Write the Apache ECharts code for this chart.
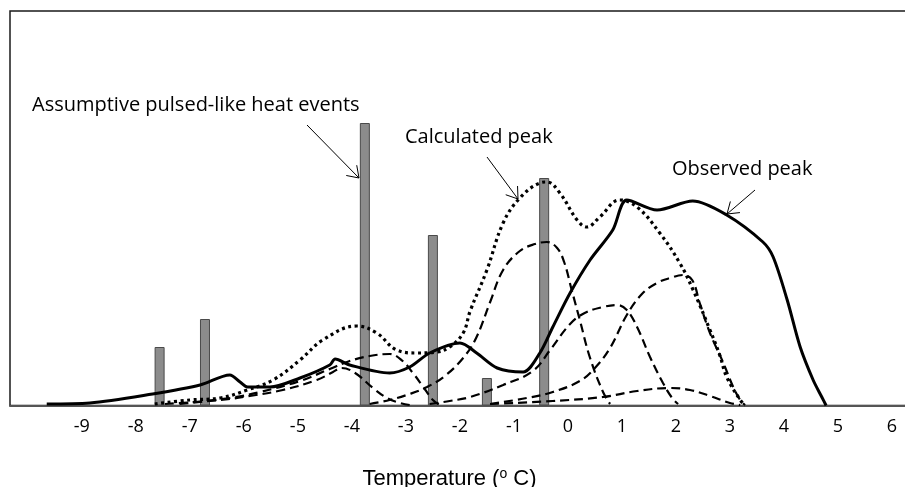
<!DOCTYPE html>
<html>
<head>
<meta charset="utf-8">
<script src="https://cdn.jsdelivr.net/npm/echarts@6/dist/echarts.min.js"></script>
<style>
  html, body { margin: 0; padding: 0; background: #fff; }
  #chart { width: 905px; height: 487px; }
</style>
</head>
<body>
<div id="chart"></div>
<script>
// Temperature ticks shown on the x axis
const tickTemps = [-9, -8, -7, -6, -5, -4, -3, -2, -1, 0, 1, 2, 3, 4, 5, 6];

// Pulsed heat events (bars)
const pulseTemps = [-7.56, -6.72, -3.76, -2.50, -1.50, -0.44];
const pulseHeat  = [58.5, 86.5, 282.5, 170.5, 27.5, 227.5];

// Observed peak (solid)
const obsTemps = [-9.65, -8.85, -7.69, -6.81, -6.26, -6.07, -5.93, -5.52, -4.96, -4.41, -4.31, -4.04, -3.30, -2.93, -2.56, -2.00, -1.69, -1.31, -0.83, -0.52, -0.28, 0.04, 0.41, 0.83, 1.09, 1.65, 2.31, 2.94, 3.61, 3.80, 4.06, 4.30, 4.54, 4.70, 4.78];
const obsHeat  = [1.5, 2.5, 11.5, 20.5, 30.5, 23.5, 18.5, 18.5, 27.5, 40.5, 46.5, 40.5, 32.5, 38.5, 52.5, 62.5, 52.5, 37.5, 33.5, 52.5, 78.5, 112.5, 145.5, 175.5, 205.5, 195.5, 204.5, 190.5, 163.5, 148.5, 105.5, 58.5, 25.5, 8.5, 0];

// Calculated peak (dotted)
const calcTemps = [-7.65, -7.00, -6.44, -5.94, -5.46, -4.96, -4.54, -3.91, -3.54, -3.17, -2.80, -2.43, -2.19, -1.94, -1.81, -1.50, -1.20, -0.89, -0.52, -0.39, -0.15, 0.17, 0.35, 0.59, 0.96, 1.28, 1.70, 2.07, 2.31, 2.63, 2.81, 2.94, 3.19, 3.28];
const calcHeat  = [1.5, 5.5, 7.5, 15.5, 25.5, 45.5, 65.5, 79.5, 72.5, 55.5, 52.5, 53.5, 58.5, 72.5, 94.5, 135.5, 182.5, 207.5, 222.5, 223.5, 212.5, 185.5, 178.5, 188.5, 205.5, 198.5, 172.5, 142.5, 116.5, 75.5, 50.5, 28.5, 5.5, 0];

// Component peaks (dashed)
const compATemps = [-7.46, -6.44, -5.89, -5.28, -4.65, -4.35, -4.19, -3.94, -3.61, -3.35, -3.11, -2.93];
const compAHeat  = [1.5, 5.5, 9.5, 15.5, 25.5, 33.5, 37.5, 32.5, 17.5, 7.5, 2.5, 0.5];

const compBTemps = [-7.19, -6.26, -5.70, -4.96, -4.41, -4.04, -3.67, -3.30, -3.06, -2.87, -2.69, -2.50, -2.37];
const compBHeat  = [1.5, 7.5, 13.5, 24.5, 36.5, 44.5, 49.5, 51.5, 44.5, 32.5, 19.5, 5.5, 0.5];

const compCTemps = [-3.67, -3.30, -2.93, -2.61, -2.28, -1.94, -1.70, -1.44, -1.20, -0.89, -0.61, -0.39, -0.20, -0.07, 0.07, 0.22, 0.41, 0.65, 0.78];
const compCHeat  = [1.5, 5.5, 11.5, 18.5, 29.5, 47.5, 67.5, 103.5, 135.5, 154.5, 161.5, 163.5, 157.5, 143.5, 115.5, 85.5, 47.5, 13.5, 1.5];

const compDTemps = [-2.56, -2.19, -1.81, -1.20, -0.65, -0.33, 0.04, 0.31, 0.65, 0.91, 1.09, 1.28, 1.52, 1.76, 1.93, 2.04];
const compDHeat  = [1.5, 4.5, 8.5, 20.5, 34.5, 55.5, 81.5, 92.5, 98.5, 100.5, 95.5, 78.5, 48.5, 22.5, 7.5, 1.5];

const compETemps = [-1.44, -0.76, -0.28, 0.22, 0.50, 0.78, 1.09, 1.37, 1.65, 1.89, 2.13, 2.30, 2.44, 2.63, 2.87, 3.06, 3.19, 3.28];
const compEHeat  = [1.5, 7.5, 13.5, 24.5, 37.5, 57.5, 90.5, 111.5, 122.5, 127.5, 130.5, 125.5, 102.5, 72.5, 43.5, 18.5, 5.5, 0.5];

const compFTemps = [-1.44, -0.28, 0.65, 1.28, 1.89, 2.26, 2.63, 3.00, 3.19];
const compFHeat  = [1.5, 4.5, 8.5, 14.5, 17.5, 15.5, 9.5, 2.5, 0.5];

const zip = (xs, ys) => xs.map((x, i) => [x, ys[i]]);

const componentSets = [
  [compATemps, compAHeat], [compBTemps, compBHeat], [compCTemps, compCHeat],
  [compDTemps, compDHeat], [compETemps, compEHeat], [compFTemps, compFHeat]
];

const dashedSeries = componentSets.map(([xs, ys]) => ({
  type: 'line',
  data: zip(xs, ys),
  smooth: 0.4,
  showSymbol: false,
  silent: true,
  z: 3,
  lineStyle: { color: '#000', width: 2.2, type: [9, 5] }
}));

const chart = echarts.init(document.getElementById('chart'), null, { renderer: 'canvas' });

const annFont = '"Open Sans", sans-serif';

// Thin arrow with an open V head, pointing from (x1,y1) to (x2,y2)
function arrow(x1, y1, x2, y2) {
  const ang = Math.atan2(y2 - y1, x2 - x1);
  const L = 13, a = 0.6;
  const p1 = [x2 - L * Math.cos(ang - a), y2 - L * Math.sin(ang - a)];
  const p2 = [x2 - L * Math.cos(ang + a), y2 - L * Math.sin(ang + a)];
  return [
    { type: 'line', shape: { x1, y1, x2, y2 }, style: { stroke: '#000', lineWidth: 1 }, z: 10 },
    { type: 'polyline', shape: { points: [p1, [x2, y2], p2] }, style: { stroke: '#000', lineWidth: 1, fill: null }, z: 10 }
  ];
}

function label(text, x, y) {
  return {
    type: 'text', x, y, z: 10,
    style: { text, fill: '#000', font: '20px ' + annFont, textVerticalAlign: 'middle', verticalAlign: 'middle' }
  };
}

chart.setOption({
  animation: false,
  backgroundColor: '#fff',
  grid: {
    left: 10, top: 11, right: -12, bottom: 81.5,
    outerBoundsMode: 'none',
    containLabel: false,
    show: true, borderColor: '#1a1a1a', borderWidth: 1.5
  },
  xAxis: {
    type: 'value',
    min: -10.33, max: 6.463,
    splitLine: { show: false },
    axisTick: { show: false },
    axisLine: { show: true, lineStyle: { color: '#555', width: 2 } },
    axisLabel: {
      customValues: tickTemps,
      color: '#000',
      fontFamily: '"Open Sans", sans-serif',
      fontSize: 18,
      margin: 12
    },
    name: 'Temperature ({sup|o} C)',
    nameLocation: 'middle',
    nameGap: 62,
    nameTextStyle: {
      color: '#000',
      fontFamily: '"Liberation Sans", Arial, sans-serif',
      fontSize: 22,
      padding: [0, 28, 0, 0],
      rich: {
        sup: { fontSize: 14, verticalAlign: 'top', fontFamily: '"Liberation Sans", Arial, sans-serif', color: '#000' }
      }
    }
  },
  yAxis: {
    type: 'value',
    min: 0, max: 394.5,
    show: false,
    splitLine: { show: false }
  },
  series: [
    {
      type: 'bar',
      data: zip(pulseTemps, pulseHeat),
      barWidth: 10,
      silent: true,
      z: 2,
      itemStyle: { color: '#8c8c8c', borderColor: '#4a4a4a', borderWidth: 1 }
    },
    ...dashedSeries,
    {
      type: 'line',
      data: zip(calcTemps, calcHeat),
      smooth: 0.4,
      showSymbol: false,
      silent: true,
      z: 4,
      lineStyle: { color: '#000', width: 3.2, type: [3, 3.5] }
    },
    {
      type: 'line',
      data: zip(obsTemps, obsHeat),
      smooth: 0.3,
      showSymbol: false,
      silent: true,
      z: 5,
      lineStyle: { color: '#000', width: 3 }
    }
  ],
  graphic: [
    label('Assumptive pulsed-like heat events', 32, 105),
    ...arrow(307, 125, 359, 178),
    label('Calculated peak', 405, 137),
    ...arrow(487, 157, 518, 199),
    label('Observed peak', 672, 169),
    ...arrow(755, 190, 727, 214)
  ]
});
</script>
</body>
</html>
